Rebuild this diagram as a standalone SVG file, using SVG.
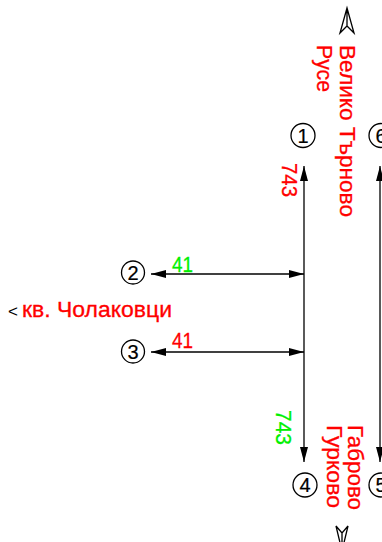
<svg xmlns="http://www.w3.org/2000/svg" width="382" height="542" viewBox="0 0 382 542">
<style>
.ln{stroke:#000;stroke-width:1.3;fill:none}
.nd circle{fill:#fff;stroke:#000;stroke-width:1.3}
.nd text{font-family:"Liberation Sans",Arial,sans-serif;font-size:20px;fill:#000;text-anchor:middle;stroke:#000;stroke-width:0.2}
.lbl{font-family:"Liberation Sans",Arial,sans-serif;font-size:21.5px;stroke-width:0.3}
.red{fill:#ff0000;stroke:#ff0000}
.grn{fill:#00f000;stroke:#00f000}
.north{fill:#fff;stroke:#000;stroke-width:1.3;stroke-linejoin:miter}
</style>
<defs>
<marker id="ah" viewBox="0 0 15 8" refX="15" refY="4" markerWidth="15" markerHeight="8" markerUnits="userSpaceOnUse" orient="auto-start-reverse">
<path d="M0,0 L15,4 L0,8 Z" fill="#000"/>
</marker>
</defs>
<g id="connectors">
<line class="ln" x1="304" y1="166" x2="304" y2="462" marker-start="url(#ah)" marker-end="url(#ah)"/>
<line class="ln" x1="380" y1="166" x2="380" y2="462" marker-start="url(#ah)" marker-end="url(#ah)"/>
<line class="ln" x1="151" y1="274" x2="304" y2="274" marker-start="url(#ah)" marker-end="url(#ah)"/>
<line class="ln" x1="151" y1="352" x2="304" y2="352" marker-start="url(#ah)" marker-end="url(#ah)"/>
</g>
<g id="n1" class="nd"><circle cx="303" cy="135.5" r="12"/><text x="303" y="142.5">1</text></g>
<g id="n2" class="nd"><circle cx="133" cy="272.5" r="11.5"/><text x="133" y="279.5">2</text></g>
<g id="n3" class="nd"><circle cx="133" cy="351.5" r="11.5"/><text x="133" y="358.5">3</text></g>
<g id="n4" class="nd"><circle cx="305" cy="485" r="12"/><text x="305" y="492">4</text></g>
<g id="n5" class="nd"><circle cx="381" cy="485" r="12"/><text x="381" y="492">5</text></g>
<g id="n6" class="nd"><circle cx="381" cy="135.5" r="12"/><text x="381" y="142.5">6</text></g>
<g id="north-top"><path class="north" d="M347,8 L340,33 L347,26 L354,33 Z M347,8 L347,26"/></g>
<g id="north-bottom"><path class="north" d="M336,526 L342,533 L348,526 L342,551 Z M342,533 L342,551"/></g>
<g id="labels">
<text class="lbl red" transform="translate(340,45) rotate(90)" textLength="172" lengthAdjust="spacingAndGlyphs">Велико Търново</text>
<text class="lbl red" transform="translate(317,45) rotate(90)" textLength="47" lengthAdjust="spacingAndGlyphs">Русе</text>
<text class="lbl red" transform="translate(348,425) rotate(90)" textLength="85" lengthAdjust="spacingAndGlyphs">Габрово</text>
<text class="lbl red" transform="translate(327,425) rotate(90)" textLength="83" lengthAdjust="spacingAndGlyphs">Гурково</text>
<text class="lbl red" transform="translate(282,163) rotate(90)" textLength="34" lengthAdjust="spacingAndGlyphs">743</text>
<text class="lbl grn" transform="translate(276,410) rotate(90)" textLength="35" lengthAdjust="spacingAndGlyphs">743</text>
<text class="lbl grn" x="172" y="272" textLength="21" lengthAdjust="spacingAndGlyphs">41</text>
<text class="lbl red" x="172" y="348" textLength="21" lengthAdjust="spacingAndGlyphs">41</text>
<text class="lbl red" x="22" y="317" textLength="150" lengthAdjust="spacingAndGlyphs">кв. Чолаковци</text>
<text x="8" y="317" style="font-family:'Liberation Sans',Arial,sans-serif;font-size:17px;fill:#000">&lt;</text>
</g>
</svg>
